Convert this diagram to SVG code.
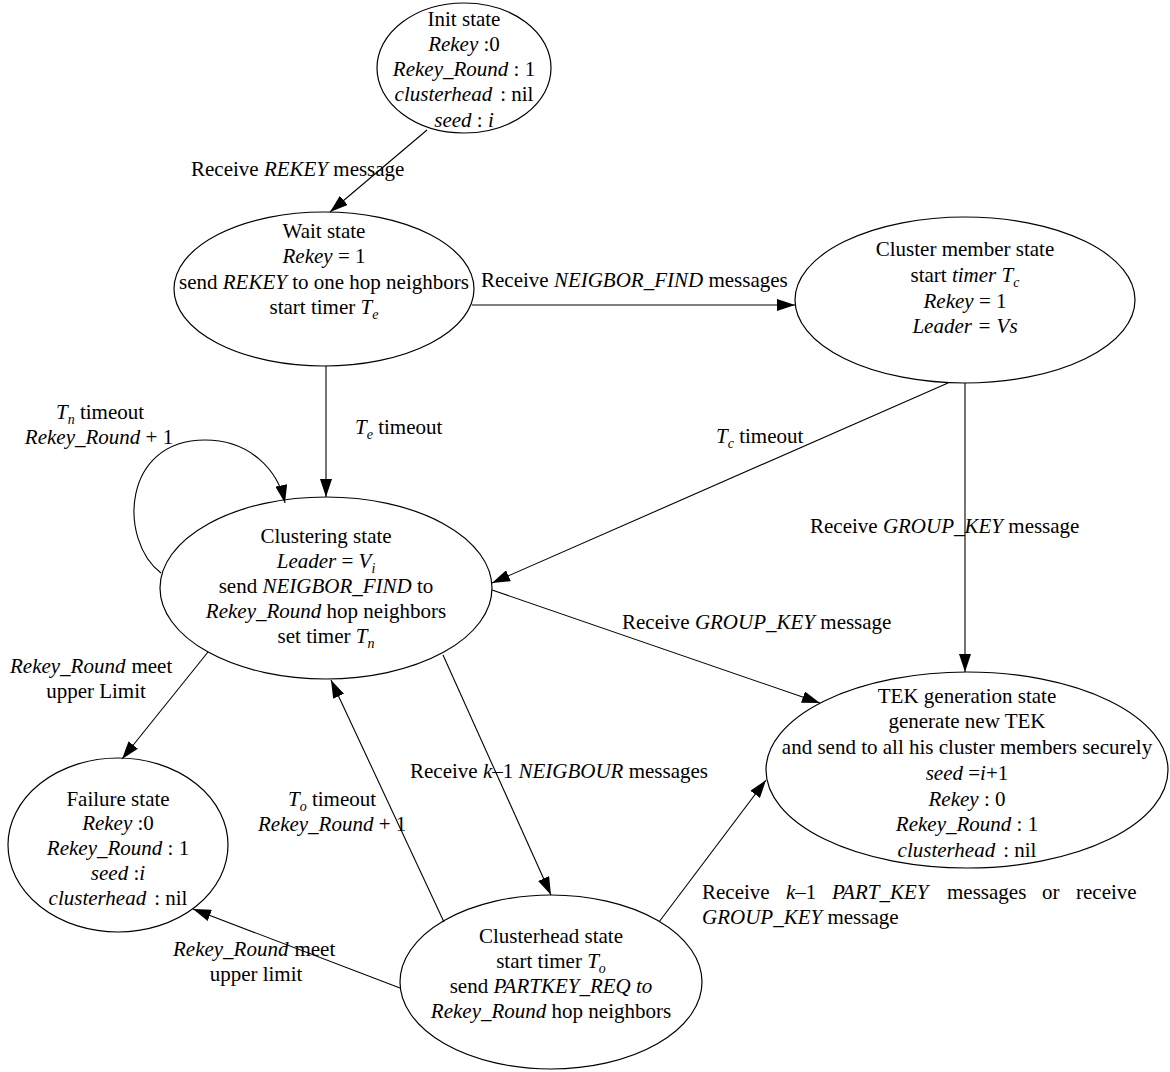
<svg xmlns="http://www.w3.org/2000/svg" width="1170" height="1072" viewBox="0 0 1170 1072">
<style>
text{font-family:'Liberation Serif','Times New Roman','DejaVu Serif',serif;font-size:21px;fill:#000}
.m{text-anchor:middle}
.i{font-style:italic}
.s{font-size:14px;font-style:italic}
.node ellipse{fill:#fff;stroke:#000;stroke-width:1.2}
.edge{fill:none;stroke:#000;stroke-width:1.1;marker-end:url(#ah)}
</style>
<defs>
<marker id="ah" viewBox="0 0 18 12" refX="18" refY="6" markerWidth="18" markerHeight="12" markerUnits="userSpaceOnUse" orient="auto">
<path d="M0,0 L18,6 L0,12 z" fill="#000"/>
</marker>
</defs>
<rect width="1170" height="1072" fill="#fff"/>

<g id="init" class="node">
<ellipse cx="464" cy="68" rx="87" ry="65"/>
<text class="m" x="464" y="26" font-family="Liberation Serif, serif">Init state</text>
<text class="m" x="464" y="51"><tspan class="i">Rekey</tspan> :0</text>
<text class="m" x="464" y="76"><tspan class="i">Rekey_Round</tspan> : 1</text>
<text class="m" x="464" y="101"><tspan class="i">clusterhead</tspan><tspan dx="8">: nil</tspan></text>
<text class="m" x="464" y="127"><tspan class="i">seed</tspan> : <tspan class="i">i</tspan></text>
</g>

<g id="wait" class="node">
<ellipse cx="324" cy="289" rx="150" ry="77"/>
<text class="m" x="324" y="238">Wait state</text>
<text class="m" x="324" y="263"><tspan class="i">Rekey</tspan> = 1</text>
<text class="m" x="324" y="289">send <tspan class="i">REKEY</tspan> to one hop neighbors</text>
<text class="m" x="324" y="314">start timer <tspan class="i">T</tspan><tspan class="s" dy="5">e</tspan></text>
</g>

<g id="member" class="node">
<ellipse cx="965" cy="300" rx="170" ry="83"/>
<text class="m" x="965" y="256">Cluster member state</text>
<text class="m" x="965" y="282">start <tspan class="i">timer T</tspan><tspan class="s" dy="5">c</tspan></text>
<text class="m" x="965" y="308"><tspan class="i">Rekey</tspan> = 1</text>
<text class="m i" x="965" y="333">Leader = Vs</text>
</g>

<g id="clustering" class="node">
<ellipse cx="326" cy="588" rx="166" ry="91"/>
<text class="m" x="326" y="543">Clustering state</text>
<text class="m" x="326" y="568"><tspan class="i">Leader</tspan> = <tspan class="i">V</tspan><tspan class="s" dy="5">i</tspan></text>
<text class="m" x="326" y="593">send <tspan class="i">NEIGBOR_FIND</tspan> to</text>
<text class="m" x="326" y="618"><tspan class="i">Rekey_Round</tspan> hop neighbors</text>
<text class="m" x="326" y="643">set timer <tspan class="i">T</tspan><tspan class="s" dy="5">n</tspan></text>
</g>

<g id="tek" class="node">
<ellipse cx="967" cy="770" rx="201" ry="98"/>
<text class="m" x="967" y="703">TEK generation state</text>
<text class="m" x="967" y="728">generate new TEK</text>
<text class="m" x="967" y="754">and send to all his cluster members securely</text>
<text class="m" x="967" y="780"><tspan class="i">seed</tspan> =<tspan class="i">i</tspan>+1</text>
<text class="m" x="967" y="806"><tspan class="i">Rekey</tspan> : 0</text>
<text class="m" x="967" y="831"><tspan class="i">Rekey_Round</tspan> : 1</text>
<text class="m" x="967" y="857"><tspan class="i">clusterhead</tspan><tspan dx="8">: nil</tspan></text>
</g>

<g id="failure" class="node">
<ellipse cx="118" cy="845" rx="110" ry="87"/>
<text class="m" x="118" y="806">Failure state</text>
<text class="m" x="118" y="830"><tspan class="i">Rekey</tspan> :0</text>
<text class="m" x="118" y="855"><tspan class="i">Rekey_Round</tspan> : 1</text>
<text class="m" x="118" y="880"><tspan class="i">seed</tspan> :<tspan class="i">i</tspan></text>
<text class="m" x="118" y="905"><tspan class="i">clusterhead</tspan><tspan dx="8">: nil</tspan></text>
</g>

<g id="clusterhead" class="node">
<ellipse cx="551" cy="982" rx="151" ry="87"/>
<text class="m" x="551" y="943">Clusterhead state</text>
<text class="m" x="551" y="968">start timer <tspan class="i">T</tspan><tspan class="s" dy="5">o</tspan></text>
<text class="m" x="551" y="993">send <tspan class="i">PARTKEY_REQ to</tspan></text>
<text class="m" x="551" y="1018"><tspan class="i">Rekey_Round</tspan> hop neighbors</text>
</g>

<g id="connectors">
<path class="edge" d="M427,130 L330,212"/>
<path class="edge" d="M472,305 L795,305"/>
<path class="edge" d="M326,366 L326,497"/>
<path class="edge" d="M965,383 L965,672"/>
<path class="edge" d="M948,383 L492,583"/>
<path class="edge" d="M161,573 C118,540 122,440 205,440 C250,440 278,470 285,503"/>
<path class="edge" d="M492,590 L820,703"/>
<path class="edge" d="M208,652 L122,759"/>
<path class="edge" d="M443,655 L551,895"/>
<path class="edge" d="M444,922 L331,680"/>
<path class="edge" d="M400,988 L193,909"/>
<path class="edge" d="M659,922 L766,780"/>

<text x="191" y="176">Receive <tspan class="i">REKEY</tspan> message</text>
<text x="481" y="287">Receive <tspan class="i">NEIGBOR_FIND</tspan> messages</text>
<text x="355" y="434"><tspan class="i">T</tspan><tspan class="s" dy="5">e</tspan><tspan dy="-5"> timeout</tspan></text>
<text x="716" y="443"><tspan class="i">T</tspan><tspan class="s" dy="5">c</tspan><tspan dy="-5"> timeout</tspan></text>
<text class="m" x="100" y="419"><tspan class="i">T</tspan><tspan class="s" dy="5">n</tspan><tspan dy="-5"> timeout</tspan></text>
<text class="m" x="99" y="444"><tspan class="i">Rekey_Round</tspan> + 1</text>
<text x="810" y="533">Receive <tspan class="i">GROUP_KEY</tspan> message</text>
<text x="622" y="629">Receive <tspan class="i">GROUP_KEY</tspan> message</text>
<text x="10" y="673"><tspan class="i">Rekey_Round</tspan><tspan dx="6">meet</tspan></text>
<text class="m" x="96" y="698">upper Limit</text>
<text x="410" y="778">Receive <tspan class="i">k</tspan>–1 <tspan class="i">NEIGBOUR</tspan> messages</text>
<text x="288" y="806"><tspan class="i">T</tspan><tspan class="s" dy="5">o</tspan><tspan dy="-5"> timeout</tspan></text>
<text x="258" y="831"><tspan class="i">Rekey_Round</tspan> + 1</text>
<text x="173" y="956"><tspan class="i">Rekey_Round</tspan><tspan dx="6">meet</tspan></text>
<text class="m" x="256" y="981">upper limit</text>
<text y="899"><tspan x="702">Receive</tspan><tspan x="786" class="i">k</tspan>–1<tspan x="832" class="i">PART_KEY</tspan><tspan x="947">messages</tspan><tspan x="1042">or</tspan><tspan x="1076">receive</tspan></text>
<text x="702" y="924"><tspan class="i">GROUP_KEY</tspan> message</text>
</g>
</svg>
